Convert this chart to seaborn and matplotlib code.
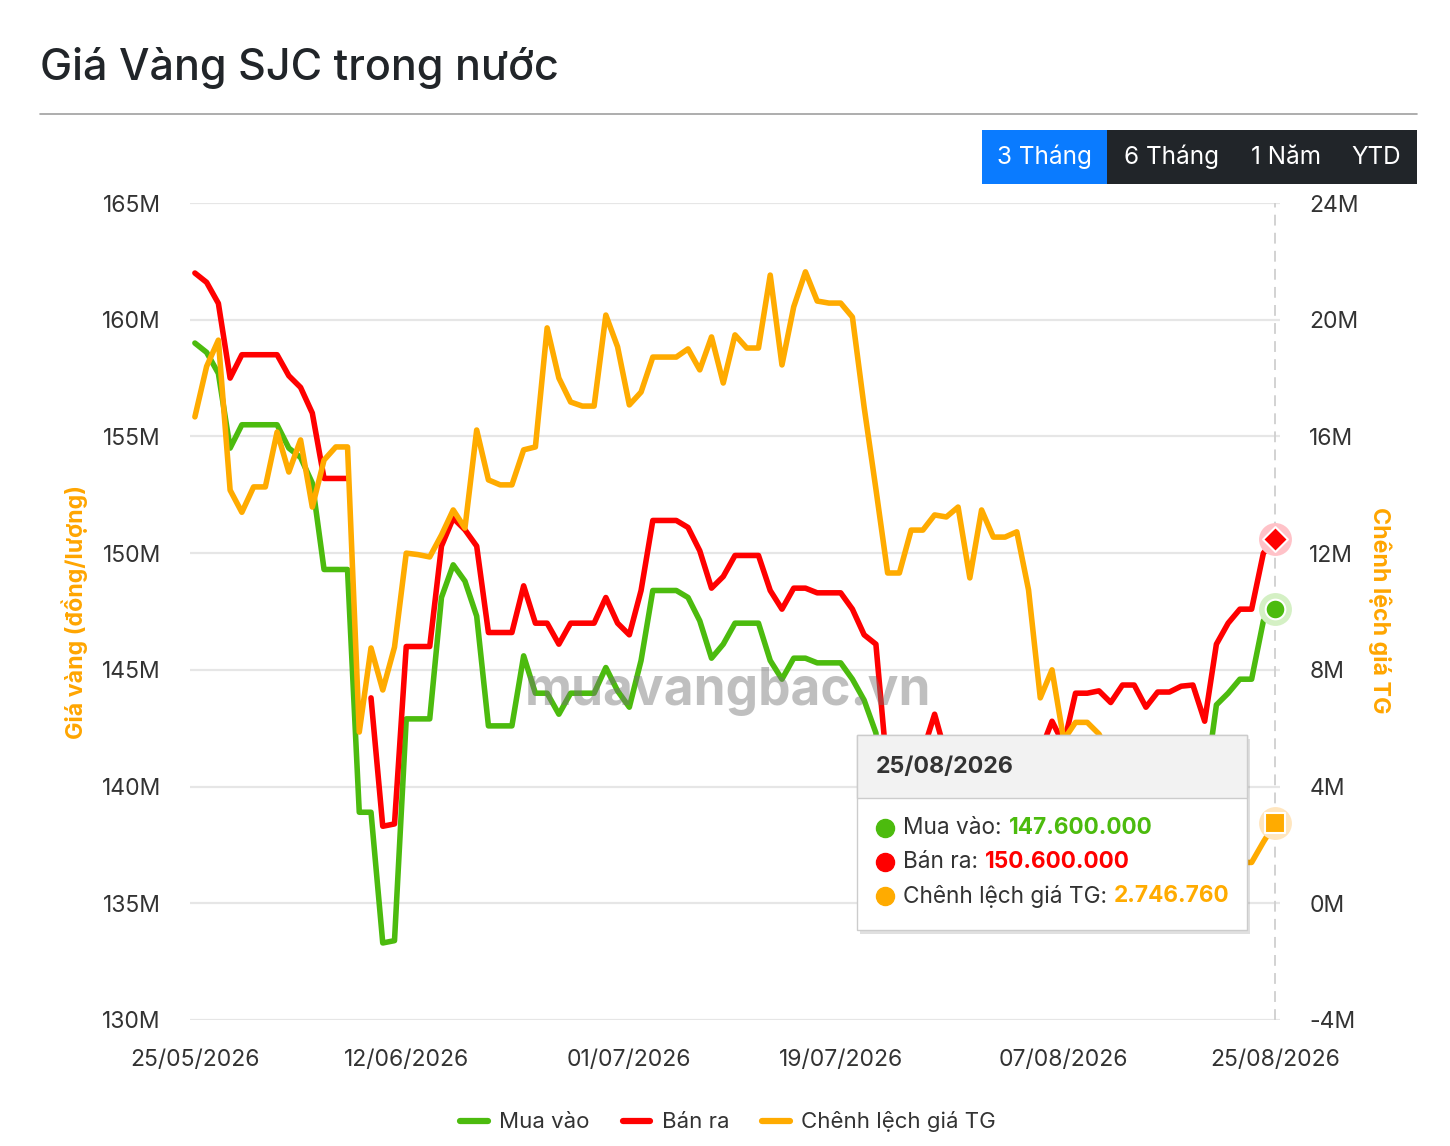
import numpy as np
import pandas as pd
import matplotlib.pyplot as plt
from matplotlib.patches import Rectangle
from matplotlib.lines import Line2D
import seaborn as sns

W, H = 1450, 1146

# daily data 25/05/2026 -> 25/08/2026 (values in millions)
dates = pd.date_range("2026-05-25", "2026-08-25", freq="D")

mua_vao = [159.0, 158.6, 157.7, 154.5, 155.5, 155.5, 155.5, 155.5, 154.5, 154.1,
           153.0, 149.3, 149.3, 149.3, 138.9, 138.9, 133.3, 133.4, 142.9, 142.9,
           142.9, 148.1, 149.5, 148.8, 147.3, 142.6, 142.6, 142.6, 145.6, 144.0,
           144.0, 143.1, 144.0, 144.0, 144.0, 145.1, 144.1, 143.4, 145.4, 148.4,
           148.4, 148.4, 148.1, 147.1, 145.5, 146.1, 147.0, 147.0, 147.0, 145.4,
           144.6, 145.5, 145.5, 145.3, 145.3, 145.3, 144.6, 143.7, 142.3, 137.5,
           138.5, 138.8, 138.8, 140.1, 138.5, 138.2, 138.0, 138.0, 137.8, 137.8,
           138.0, 138.2, 138.5, 139.8, 138.8, 141.0, 141.0, 141.1, 140.6, 141.35,
           141.35, 140.4, 141.05, 141.05, 141.3, 141.35, 139.8, 143.5, 144.0, 144.6,
           144.6, 147.1, 147.6]

ban_ra = [162.0, 161.6, 160.7, 157.5, 158.5, 158.5, 158.5, 158.5, 157.6, 157.1,
          156.0, 153.2, 153.2, 153.2, np.nan, 143.8, 138.3, 138.4, 146.0, 146.0,
          146.0, 150.3, 151.5, 151.0, 150.3, 146.6, 146.6, 146.6, 148.6, 147.0,
          147.0, 146.1, 147.0, 147.0, 147.0, 148.1, 147.0, 146.5, 148.4, 151.4,
          151.4, 151.4, 151.1, 150.1, 148.5, 149.0, 149.9, 149.9, 149.9, 148.4,
          147.6, 148.5, 148.5, 148.3, 148.3, 148.3, 147.6, 146.5, 146.1, 140.5,
          141.5, 141.8, 141.5, 143.1, 141.3, 141.2, 141.0, 141.0, 140.8, 140.8,
          141.0, 141.2, 141.5, 142.8, 141.8, 144.0, 144.0, 144.1, 143.6, 144.35,
          144.35, 143.4, 144.05, 144.05, 144.3, 144.35, 142.8, 146.1, 147.0, 147.6,
          147.6, 150.0, 150.6]

chenh_lech = [16.67, 18.4, 19.3, 14.16, 13.4, 14.27, 14.27, 16.15, 14.78, 15.88,
              13.58, 15.19, 15.64, 15.64, 5.87, 8.75, 7.31, 8.78, 12.0, 11.95,
              11.87, 12.62, 13.48, 12.86, 16.22, 14.51, 14.34, 14.34, 15.54, 15.64,
              19.72, 18.0, 17.18, 17.04, 17.04, 20.16, 19.07, 17.08, 17.52, 18.72,
              18.72, 18.72, 19.0, 18.28, 19.41, 17.83, 19.48, 19.03, 19.03, 21.53,
              18.45, 20.44, 21.64, 20.64, 20.57, 20.57, 20.09, 17.0, 14.2, 11.32,
              11.32, 12.79, 12.79, 13.31, 13.24, 13.58, 11.15, 13.48, 12.55, 12.55,
              12.73, 10.74, 7.04, 8.0, 5.6, 6.2, 6.2, 5.8, 5.0, 4.5,
              4.5, 3.8, 4.0, 4.0, 3.5, 3.2, 2.5, 2.0, 1.6, 1.4,
              1.4, 2.1, 2.747]

tick_dates = ["25/05/2026", "12/06/2026", "01/07/2026", "19/07/2026", "07/08/2026", "25/08/2026"]
left_ticks = [130, 135, 140, 145, 150, 155, 160, 165]
right_ticks = [-4, 0, 4, 8, 12, 16, 20, 24]
series_names = ["Mua vào", "Bán ra", "Chênh lệch giá TG"]
buttons = ["3 Tháng", "6 Tháng", "1 Năm", "YTD"]

green, red, orange = "#4cbb0e", "#ff0000", "#ffab00"
txt = "#333333"

sns.set_style("white")
plt.rcParams["font.family"] = ["Inter", "DejaVu Sans"]


def fx(x):
    return x / W


def fy(y):
    return 1 - y / H


fig = plt.figure(figsize=(W / 100, H / 100), dpi=100)
ax = fig.add_axes([fx(190), fy(1020), 1090 / W, 817 / H])
ax2 = ax.twinx()

df = pd.DataFrame({"date": dates, "mua": mua_vao, "ban": ban_ra, "cl": chenh_lech})
# a missing day breaks the line, so give each run its own unit
df["seg"] = df["ban"].isna().cumsum()

sns.lineplot(data=df, x="date", y="mua", ax=ax, color=green, lw=4, legend=False)
sns.lineplot(data=df, x="date", y="ban", units="seg", estimator=None, ax=ax, color=red, lw=4, legend=False)
sns.lineplot(data=df, x="date", y="cl", ax=ax2, color=orange, lw=4, legend=False)

pad = pd.Timedelta(hours=10)
ax.set_xlim(dates[0] - pad, dates[-1] + pad)
ax.set_ylim(130, 165)
ax2.set_ylim(-4, 24)
ax.set_yticks(left_ticks)
ax.set_yticklabels([f"{v}M" for v in left_ticks])
ax2.set_yticks(right_ticks)
ax2.set_yticklabels([f"{v}M" for v in right_ticks])
tks = pd.to_datetime(tick_dates, format="%d/%m/%Y")
ax.set_xticks(tks)
ax.set_xticklabels(tick_dates)
ax.set_xlabel("")
ax.set_ylabel("")
ax2.set_ylabel("")

ax.grid(False)
ax2.grid(False)
ax.yaxis.grid(True, color="#e6e6e6", lw=1.6)
for a in (ax, ax2):
    for s in a.spines.values():
        s.set_visible(False)
ax.tick_params(axis="y", length=0, pad=21, labelsize=16.5, labelcolor=txt)
ax2.tick_params(axis="y", length=0, pad=21, labelsize=16.5, labelcolor=txt)
ax.tick_params(axis="x", length=0, pad=21, labelsize=16.5, labelcolor=txt)

# crosshair at the last date
ax.axvline(dates[-1], color="#cfcfcf", lw=1.3, ls=(0, (6, 4)), zorder=1)

# highlighted end points
ax.scatter([dates[-1]], [ban_ra[-1]], s=560, color="#ffc2c8", zorder=4, clip_on=False, lw=0)
ax.scatter([dates[-1]], [ban_ra[-1]], s=160, marker="D", color=red, edgecolor="white", lw=1.5, zorder=5, clip_on=False)
ax.scatter([dates[-1]], [mua_vao[-1]], s=560, color="#d4f0c4", zorder=4, clip_on=False, lw=0)
ax.scatter([dates[-1]], [mua_vao[-1]], s=200, marker="o", color=green, edgecolor="white", lw=1.5, zorder=5, clip_on=False)
ax2.scatter([dates[-1]], [chenh_lech[-1]], s=560, color="#ffe6bf", zorder=4, clip_on=False, lw=0)
ax2.scatter([dates[-1]], [chenh_lech[-1]], s=200, marker="s", color=orange, edgecolor="white", lw=1.5, zorder=5, clip_on=False)

# axis titles
fig.text(fx(75), fy(612), "Giá vàng (đồng/lượng)", rotation=90, ha="center", va="center",
         fontsize=16.7, fontweight="bold", color="#ffa500")
fig.text(fx(1380), fy(610), "Chênh lệch giá TG", rotation=-90, ha="center", va="center",
         fontsize=16.7, fontweight="bold", color="#ffa500")

# title + rule
fig.text(fx(40), fy(68), "Giá Vàng SJC trong nước", ha="left", va="center",
         fontsize=31, fontweight="medium", color="#212529")
fig.add_artist(Line2D([fx(40), fx(1417)], [fy(114), fy(114)], color="#a0a0a0", lw=1.2, transform=fig.transFigure))

# range buttons
btn_edges = [982, 1107, 1236, 1336, 1417]
for i, lab in enumerate(buttons):
    x0, x1 = btn_edges[i], btn_edges[i + 1]
    fc = "#0a7bff" if i == 0 else "#212529"
    fig.add_artist(Rectangle((fx(x0), fy(184)), (x1 - x0) / W, 54 / H, transform=fig.transFigure,
                             facecolor=fc, edgecolor="none"))
    fig.text(fx((x0 + x1) / 2), fy(157), lab, ha="center", va="center", fontsize=17.5, color="white")

# watermark
fig.text(fx(728), fy(692), "muavangbac.vn", ha="center", va="center", fontsize=37,
         fontweight="bold", color="0.45", alpha=0.45, zorder=5)

# legend
handles = [Line2D([], [], color=c, lw=4.5, solid_capstyle="round") for c in (green, red, orange)]
fig.legend(handles, series_names, loc="center", bbox_to_anchor=(fx(728), fy(1122)), ncol=3,
           frameon=False, fontsize=16, handlelength=1.25, handletextpad=0.5, columnspacing=1.5,
           labelcolor=txt)

# tooltip
tx0, ty0, tx1, ty1 = 857, 735, 1247, 930
fig.add_artist(Rectangle((fx(tx0 + 3), fy(ty1 + 4)), (tx1 - tx0) / W, (ty1 - ty0) / H, transform=fig.transFigure,
                         facecolor="black", alpha=0.12, edgecolor="none", zorder=9))
fig.add_artist(Rectangle((fx(tx0), fy(ty1)), (tx1 - tx0) / W, (ty1 - ty0) / H, transform=fig.transFigure,
                         facecolor="white", edgecolor="#cccccc", lw=1, zorder=10))
fig.add_artist(Rectangle((fx(tx0), fy(798)), (tx1 - tx0) / W, (798 - ty0) / H, transform=fig.transFigure,
                         facecolor="#f2f2f2", edgecolor="#cccccc", lw=1, zorder=10))
fig.text(fx(876), fy(767), "25/08/2026", ha="left", va="center", fontsize=16.7, fontweight="bold",
         color=txt, zorder=11)

renderer = fig.canvas.get_renderer()
rows = [("Mua vào:", "147.600.000", green, 828),
        ("Bán ra:", "150.600.000", red, 862),
        ("Chênh lệch giá TG:", "2.746.760", orange, 896)]
for lab, val, c, yy in rows:
    fig.add_artist(Line2D([fx(885)], [fy(yy)], marker="o", ms=13, color=c, lw=0,
                          transform=fig.transFigure, zorder=11))
    t = fig.text(fx(903), fy(yy), lab, ha="left", va="center", fontsize=16.3, color=txt, zorder=11)
    bb = t.get_window_extent(renderer)
    fig.text((bb.x1 + 7) / W, fy(yy), val, ha="left", va="center", fontsize=16.3,
             fontweight="bold", color=c, zorder=11)

fig.savefig("out.png", dpi=100, facecolor="white")
